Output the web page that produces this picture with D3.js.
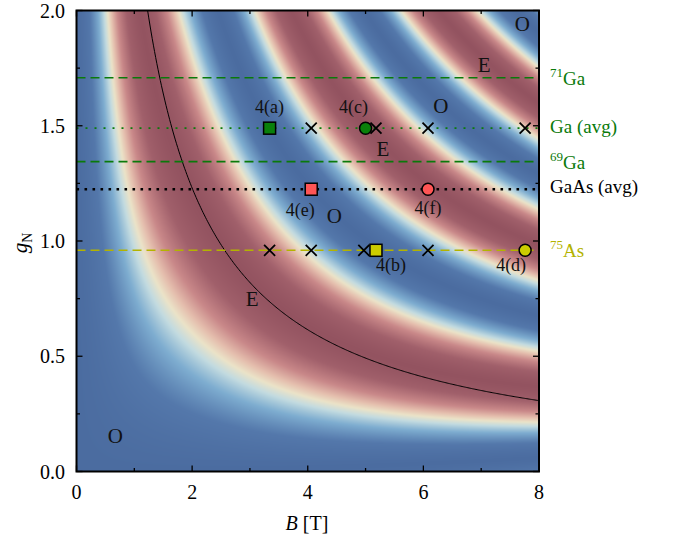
<!DOCTYPE html>
<html><head><meta charset="utf-8">
<script src="https://cdn.jsdelivr.net/npm/d3@7"></script>
<style>body{margin:0;background:#fff} svg{display:block}</style></head>
<body>
<svg id="c" width="678" height="540"></svg>
<script>
// ---- data ----
const bTicks = [0, 2, 4, 6, 8];
const bMinor = [1, 3, 5, 7];
const gTicks = [0, 0.5, 1.0, 1.5, 2.0];
const gMinor = [0.25, 0.75, 1.25, 1.75];
const lineLabels = ['71Ga', 'Ga (avg)', '69Ga', 'GaAs (avg)', '75As'];
const lineG = [1.708, 1.4895, 1.3444, 1.2246, 0.9597];
const markerLabels = ['4(a)', '4(b)', '4(c)', '4(d)', '4(e)', '4(f)'];
const markerB = [3.34, 5.18, 5.0, 7.76, 4.06, 6.08];
const markerG = [1.4895, 0.9597, 1.4895, 0.9597, 1.2246, 1.2246];
const markerShape = ['square', 'square', 'circle', 'circle', 'square', 'circle'];
const crossB = [4.06, 5.18, 6.08, 7.76, 3.34, 4.06, 4.97, 6.08];
const crossG = [1.4895, 1.4895, 1.4895, 1.4895, 0.9597, 0.9597, 0.9597, 0.9597];
const parityLabels = ['O', 'E', 'O', 'E', 'O', 'E', 'O'];
const parityB = [7.71, 7.05, 6.30, 5.30, 4.46, 3.04, 0.67];
const parityG = [1.94, 1.765, 1.585, 1.40, 1.11, 0.75, 0.155];
const fringeP = 2.46;     // B*g of first even fringe (black curve)
const edgeGShift = 0.06;  // fringe shift in g seen at the B = 8 T edge
const lowBStretch = 0.14; // extra fringe phase seen at low field

// ---- layout / style ----
const L = 76.5, R = 539, T = 10.5, Bm = 471.5;
const serif = '"Liberation Serif", "DejaVu Serif", serif';
const lineColor = ['#0a7a0a', '#0a7a0a', '#0a7a0a', '#000000', '#b3b300'];
const lineDash = ['9,5', '2,7', '9,5', '2.6,5.4', '9,5'];
const lineWidth = [1.6, 1.7, 1.6, 2.6, 1.6];
const labelColor = ['#0a7a0a', '#0a7a0a', '#0a7a0a', '#000000', '#b3b300'];
const markerFill = ['#0a800a', '#cccc00', '#0a800a', '#cccc00', '#ff5555', '#ff5555'];

const svg = d3.select('#c');
const x = d3.scaleLinear().domain([0, 8]).range([L, R]);
const y = d3.scaleLinear().domain([0, 2]).range([Bm, T]);

const cmap = d3.scaleLinear()
  .domain([0, 0.14, 0.3, 0.42, 0.5, 0.58, 0.7, 0.86, 1])
  .range(['#4b6ca0', '#5478ab', '#7eadd0', '#c3dbe0', '#ebe3c8', '#e5bfae', '#c98889', '#a1606b', '#935360'])
  .interpolate(d3.interpolateRgb);

// heatmap
const pw = Math.round(R - L), ph = Math.round(Bm - T);
const cv = document.createElement('canvas');
cv.width = pw; cv.height = ph;
const ctx = cv.getContext('2d');
const img = ctx.createImageData(pw, ph);
for (let j = 0; j < ph; j++) {
  const g = y.invert(T + j + 0.5);
  for (let i = 0; i < pw; i++) {
    const b = x.invert(L + i + 0.5);
    const shift = edgeGShift * (b / 8) * (b / 8);
    const m = 1 + lowBStretch * Math.exp(-Math.pow((b - 0.6) / 1.1, 2));
    const ph0 = Math.PI * m * b * (g - shift) / fringeP;
    const c0 = Math.cos(ph0);
    const t = 0.65 * (1 - c0) / 2 + 0.35 * Math.acos(Math.max(-1, Math.min(1, c0))) / Math.PI;
    const c = d3.rgb(cmap(t));
    const k = 4 * (j * pw + i);
    img.data[k] = c.r; img.data[k + 1] = c.g; img.data[k + 2] = c.b; img.data[k + 3] = 255;
  }
}
ctx.putImageData(img, 0, 0);
svg.append('image').attr('x', L).attr('y', T).attr('width', pw).attr('height', ph)
  .attr('preserveAspectRatio', 'none').attr('href', cv.toDataURL());

svg.append('clipPath').attr('id', 'clip').append('rect')
  .attr('x', L).attr('y', T).attr('width', R - L).attr('height', Bm - T);
const plot = svg.append('g').attr('clip-path', 'url(#clip)');

// black curve B*g = fringeP
const curveB = d3.range(fringeP / 2, 8.001, 0.02);
plot.append('path')
  .attr('d', d3.line().x(b => x(b)).y(b => y(fringeP / b))(curveB))
  .attr('fill', 'none').attr('stroke', '#000').attr('stroke-width', 1);

// horizontal lines
lineG.forEach((g, i) => {
  plot.append('line').attr('x1', L).attr('x2', R).attr('y1', y(g)).attr('y2', y(g))
    .attr('stroke', lineColor[i]).attr('stroke-width', lineWidth[i])
    .attr('stroke-dasharray', lineDash[i]);
});

// crosses
crossB.forEach((b, i) => {
  const cx = x(b), cy = y(crossG[i]), s = 5.5;
  svg.append('path').attr('d', `M${cx - s},${cy - s}L${cx + s},${cy + s}M${cx - s},${cy + s}L${cx + s},${cy - s}`)
    .attr('stroke', '#000').attr('stroke-width', 1.8).attr('fill', 'none');
});

// markers
markerB.forEach((b, i) => {
  const cx = x(b), cy = y(markerG[i]);
  if (markerShape[i] === 'square') {
    svg.append('rect').attr('x', cx - 6).attr('y', cy - 6).attr('width', 12).attr('height', 12)
      .attr('fill', markerFill[i]).attr('stroke', '#000').attr('stroke-width', 1.5);
  } else {
    svg.append('circle').attr('cx', cx).attr('cy', cy).attr('r', 6)
      .attr('fill', markerFill[i]).attr('stroke', '#000').attr('stroke-width', 1.5);
  }
});

// marker labels
const mlOff = [[0, -15], [15, 21], [-12, -15], [-14, 21], [-11, 27], [0, 25]];
markerLabels.forEach((s, i) => {
  svg.append('text').attr('x', x(markerB[i]) + mlOff[i][0]).attr('y', y(markerG[i]) + mlOff[i][1])
    .attr('text-anchor', 'middle').attr('font-family', serif).attr('font-size', 18).attr('fill', '#111')
    .text(s);
});

// parity labels
parityLabels.forEach((s, i) => {
  svg.append('text').attr('x', x(parityB[i])).attr('y', y(parityG[i]))
    .attr('text-anchor', 'middle').attr('dominant-baseline', 'central')
    .attr('font-family', serif).attr('font-size', 21).attr('fill', '#111').text(s);
});

// frame
svg.append('rect').attr('x', L).attr('y', T).attr('width', R - L).attr('height', Bm - T)
  .attr('fill', 'none').attr('stroke', '#000').attr('stroke-width', 2);

// ticks
const tk = svg.append('g').attr('stroke', '#000').attr('stroke-width', 1.3);
bTicks.concat(bMinor).forEach(b => {
  const len = bTicks.includes(b) ? 6 : 3.5;
  tk.append('line').attr('x1', x(b)).attr('x2', x(b)).attr('y1', Bm).attr('y2', Bm - len);
  tk.append('line').attr('x1', x(b)).attr('x2', x(b)).attr('y1', T).attr('y2', T + len);
});
gTicks.concat(gMinor).forEach(g => {
  const len = gTicks.includes(g) ? 6 : 3.5;
  tk.append('line').attr('y1', y(g)).attr('y2', y(g)).attr('x1', L).attr('x2', L + len);
  tk.append('line').attr('y1', y(g)).attr('y2', y(g)).attr('x1', R).attr('x2', R - len);
});

// tick labels
bTicks.forEach(b => {
  svg.append('text').attr('x', x(b)).attr('y', 499).attr('text-anchor', 'middle')
    .attr('font-family', serif).attr('font-size', 20).text(d3.format('d')(b));
});
gTicks.forEach(g => {
  svg.append('text').attr('x', 65).attr('y', y(g)).attr('dy', '0.35em').attr('text-anchor', 'end')
    .attr('font-family', serif).attr('font-size', 20).text(d3.format('.1f')(g));
});

// axis labels
const xl = svg.append('text').attr('x', 307).attr('y', 530).attr('text-anchor', 'middle')
  .attr('font-family', serif).attr('font-size', 20);
xl.append('tspan').attr('font-style', 'italic').text('B');
xl.append('tspan').text(' [T]');
const yl = svg.append('text').attr('transform', 'translate(27,243) rotate(-90)').attr('text-anchor', 'middle')
  .attr('font-family', serif).attr('font-size', 21);
yl.append('tspan').attr('font-style', 'italic').text('g');
yl.append('tspan').attr('font-size', 14).attr('dy', 5).text('N');

// right-side labels
const rlY = [85, 133, 169, 193, 257];
lineLabels.forEach((s, i) => {
  const t = svg.append('text').attr('x', 550).attr('y', rlY[i]).attr('font-family', serif)
    .attr('font-size', 19).attr('fill', labelColor[i]);
  const m = s.match(/^(\d+)(.*)$/);
  if (m) {
    t.append('tspan').attr('font-size', 13).attr('dy', -8).text(m[1]);
    t.append('tspan').attr('dy', 8).text(m[2]);
  } else t.text(s);
});
</script>
</body></html>
